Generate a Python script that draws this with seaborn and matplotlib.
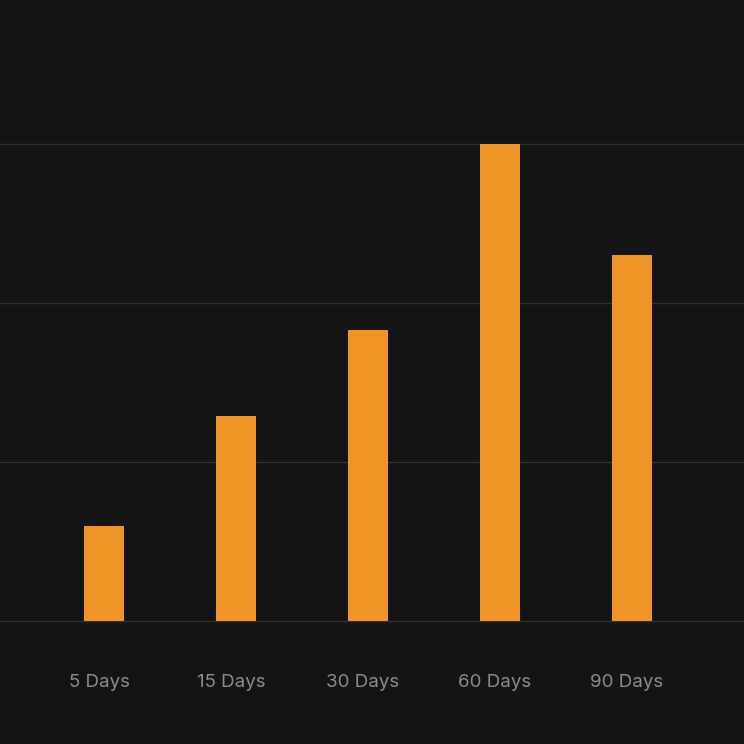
import matplotlib
matplotlib.use("Agg")
import matplotlib.pyplot as plt
import matplotlib.transforms as mtransforms
import seaborn as sns
import pandas as pd

categories = ["5 Days", "15 Days", "30 Days", "60 Days", "90 Days"]
values = [0.60, 1.29, 1.83, 3.00, 2.30]

BG = "#141414"
BAR = "#EF9527"
GRID = "#303030"
LABEL = "#8c8c8c"

sns.set_theme(style="dark")
plt.rcParams["font.family"] = ["Inter", "DejaVu Sans"]

df = pd.DataFrame({"period": categories, "value": values})

fig = plt.figure(figsize=(7.44, 7.44), dpi=100, facecolor=BG)
ax = fig.add_axes([0, 123 / 744, 1, 621 / 744])
ax.set_facecolor(BG)

sns.barplot(data=df, x="period", y="value", color=BAR, width=0.303,
            saturation=1, ax=ax, zorder=3, linewidth=0, edgecolor="none")

ax.set_xlim(-104 / 132, (744 - 104) / 132)
ax.set_ylim(0, 621 / 159)
ax.set_yticks([])
for y in [0, 1, 2, 3]:
    ax.axhline(y, color=GRID, lw=1, zorder=1, clip_on=False)

for s in ax.spines.values():
    s.set_visible(False)

ax.set_xlabel("")
ax.set_ylabel("")
ax.tick_params(axis="x", length=0, pad=38, labelsize=13.5, labelcolor=LABEL)
offset = mtransforms.ScaledTranslation(-5 / 100, 0, fig.dpi_scale_trans)
for lab in ax.get_xticklabels():
    lab.set_transform(lab.get_transform() + offset)
ax.grid(False)

fig.savefig("out.png", dpi=100, facecolor=BG)
